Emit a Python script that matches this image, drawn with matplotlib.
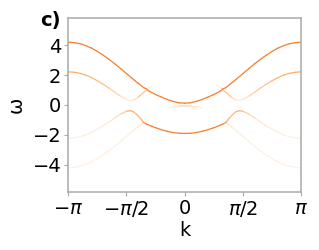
import numpy as np
import matplotlib.pyplot as plt
from matplotlib.collections import LineCollection

# spectral branches, k in units of pi (k <= 0 half,
# the picture is mirror symmetric in k). a = intensity on the Oranges scale
upper_k = [-1, -0.95, -0.9, -0.85, -0.8, -0.75, -0.7, -0.65, -0.6, -0.55, -0.5,
           -0.45, -0.4, -0.35, -0.33, -0.31, -0.3, -0.25, -0.2, -0.15, -0.1, -0.05, 0]
upper_w = [4.2, 4.17, 4.1, 3.97, 3.8, 3.58, 3.33, 3.05, 2.75, 2.43, 2.1,
           1.77, 1.45, 1.15, 1.08, 0.95, 0.9, 0.7, 0.53, 0.37, 0.24, 0.15, 0.12]
upper_a = [0.55] * 23

second_k = [-1, -0.95, -0.9, -0.85, -0.8, -0.75, -0.7, -0.65, -0.6, -0.55,
            -0.5, -0.47, -0.44, -0.4, -0.36, -0.33]
second_w = [2.22, 2.19, 2.12, 2.0, 1.83, 1.62, 1.39, 1.13, 0.85, 0.58,
            0.38, 0.3, 0.33, 0.52, 0.8, 0.98]
second_a = [0.38, 0.38, 0.37, 0.36, 0.35, 0.33, 0.31, 0.28, 0.25, 0.2,
            0.1, 0.05, 0.1, 0.25, 0.32, 0.25]

lower_k = [-1, -0.95, -0.9, -0.85, -0.8, -0.75, -0.7, -0.65, -0.6, -0.55,
           -0.5, -0.47, -0.44, -0.41, -0.38, -0.356, -0.33, -0.3, -0.25,
           -0.2, -0.15, -0.1, -0.05, 0]
lower_w = [-2.22, -2.19, -2.12, -2.0, -1.83, -1.62, -1.39, -1.13, -0.86, -0.6,
           -0.42, -0.38, -0.45, -0.65, -0.9, -1.15, -1.27, -1.37, -1.52,
           -1.65, -1.76, -1.84, -1.89, -1.9]
lower_a = [0.04, 0.04, 0.045, 0.05, 0.06, 0.07, 0.08, 0.1, 0.14, 0.2,
           0.32, 0.38, 0.36, 0.32, 0.32, 0.42, 0.55, 0.55, 0.55,
           0.55, 0.55, 0.55, 0.55, 0.55]

bottom_k = [-1, -0.95, -0.9, -0.85, -0.8, -0.75, -0.7, -0.65, -0.6, -0.55,
            -0.5, -0.45, -0.4, -0.356]
bottom_w = [-4.2, -4.17, -4.1, -3.97, -3.8, -3.58, -3.33, -3.05, -2.75, -2.43,
            -2.1, -1.77, -1.45, -1.18]
bottom_a = [0.03, 0.03, 0.03, 0.03, 0.035, 0.035, 0.04, 0.04, 0.045, 0.05,
            0.05, 0.06, 0.07, 0.1]

hook_k = [-0.33, -0.3, -0.27]
hook_w = [1.05, 1.17, 1.3]
hook_a = [0.15, 0.06, 0.0]

center_k = [-0.15, -0.1, -0.05, 0]
center_w = [-0.2, -0.12, -0.07, -0.05]
center_a = [0.0, 0.1, 0.2, 0.25]

branches = [(bottom_k, bottom_w, bottom_a), (center_k, center_w, center_a),
            (hook_k, hook_w, hook_a), (second_k, second_w, second_a),
            (lower_k, lower_w, lower_a), (upper_k, upper_w, upper_a)]

xticks = [-np.pi, -np.pi / 2, 0, np.pi / 2, np.pi]
xticklabels = [r'$-\pi$', r'$-\pi/2$', '0', r'$\pi/2$', r'$\pi$']
yticks = [-4, -2, 0, 2, 4]

fig = plt.figure(figsize=(3.19, 2.5), dpi=100)
ax = fig.add_axes([0.214, 0.233, 0.73, 0.694])
cmap = plt.get_cmap('Oranges')

for k, w, a in branches:
    a = np.array(a)
    for sign in (-1, 1):
        pts = np.column_stack([sign * np.pi * np.array(k), w]).reshape(-1, 1, 2)
        segs = np.concatenate([pts[:-1], pts[1:]], axis=1)
        lc = LineCollection(segs, colors=cmap((a[:-1] + a[1:]) / 2),
                            linewidths=0.9, capstyle='round')
        ax.add_collection(lc)

ax.set_xlim(-np.pi, np.pi)
ax.set_ylim(-5.8, 5.8)
ax.set_xticks(xticks)
ax.set_xticklabels(xticklabels)
ax.set_yticks(yticks)
ax.tick_params(labelsize=14, length=3, color='#aaaaaa', pad=2)
for s in ax.spines.values():
    s.set_color('#aaaaaa')
    s.set_linewidth(1.1)
ax.set_xlabel('k', fontsize=14, labelpad=2)
ax.set_ylabel('ω', fontsize=14, labelpad=5)
fig.text(0.125, 0.918, 'c)', fontsize=14, fontweight='bold', va='center')

fig.savefig('out.png', dpi=100)
